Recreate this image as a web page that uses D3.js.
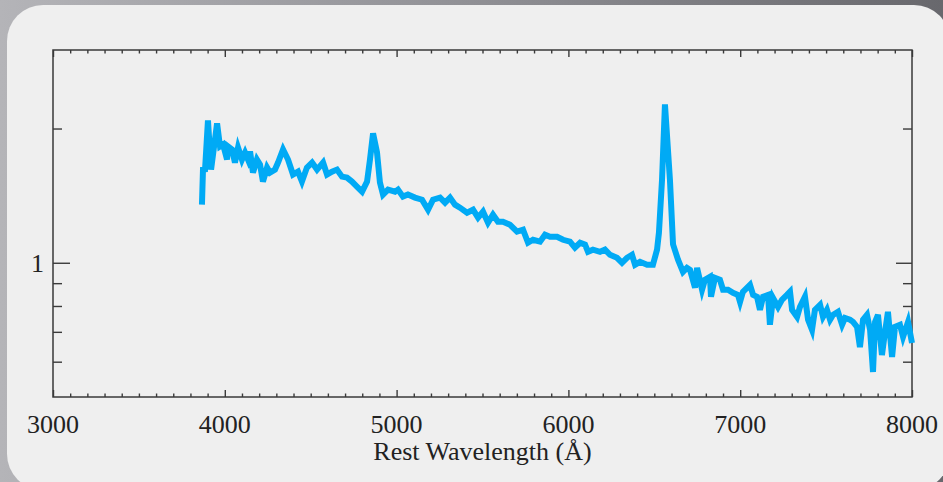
<!DOCTYPE html>
<html>
<head>
<meta charset="utf-8">
<script src="https://cdn.jsdelivr.net/npm/d3@7"></script>
<style>
  html, body { margin: 0; padding: 0; background: #8c8c90; }
  svg { display: block; }
</style>
</head>
<body>
<div id="chart"></div>
<script>
// spectrum: rest wavelength (A) and flux (log axis)
var wavelength = [
  3867, 3873, 3885, 3902, 3920, 3955, 3972, 3990, 4013, 4019,
  4042, 4059, 4077, 4100, 4118, 4135, 4147, 4164, 4187, 4205,
  4222, 4246, 4263, 4292, 4310, 4339, 4368, 4397, 4426, 4449,
  4478, 4508, 4537, 4572, 4595, 4624, 4653, 4682, 4711, 4740,
  4769, 4799, 4828, 4845, 4863, 4886, 4903, 4921, 4950, 4991,
  5008, 5037, 5066, 5107, 5148, 5183, 5212, 5253, 5282, 5311,
  5340, 5369, 5410, 5445, 5474, 5503, 5532, 5561, 5590, 5619,
  5660, 5701, 5736, 5765, 5794, 5835, 5864, 5893, 5934, 5969,
  6009, 6038, 6068, 6097, 6114, 6143, 6184, 6213, 6242, 6283,
  6312, 6341, 6370, 6388, 6417, 6458, 6492, 6516, 6527, 6545,
  6562, 6591, 6609, 6638, 6667, 6690, 6708, 6737, 6749, 6778,
  6795, 6824, 6830, 6853, 6882, 6900, 6929, 6958, 6987, 6999,
  7016, 7057, 7075, 7098, 7115, 7133, 7162, 7173, 7191, 7220,
  7243, 7272, 7290, 7302, 7331, 7348, 7377, 7395, 7418, 7435,
  7465, 7482, 7505, 7523, 7540, 7569, 7593, 7610, 7639, 7657,
  7680, 7697, 7715, 7738, 7756, 7773, 7785, 7802, 7825, 7843,
  7860, 7884, 7901, 7930, 7948, 7977, 8000
];
var flux = [
  1.350, 1.618, 1.620, 2.085, 1.618, 2.053, 1.823, 1.842, 1.704, 1.823,
  1.795, 1.678, 1.813, 1.704, 1.767, 1.704, 1.776, 1.593, 1.704, 1.661,
  1.521, 1.635, 1.593, 1.618, 1.678, 1.795, 1.704, 1.577, 1.601, 1.521,
  1.635, 1.678, 1.618, 1.678, 1.577, 1.601, 1.618, 1.560, 1.552, 1.521,
  1.482, 1.444, 1.521, 1.704, 1.950, 1.767, 1.513, 1.422, 1.459, 1.444,
  1.459, 1.407, 1.422, 1.400, 1.385, 1.315, 1.385, 1.400, 1.364, 1.400,
  1.350, 1.329, 1.295, 1.315, 1.262, 1.302, 1.230, 1.282, 1.236, 1.236,
  1.217, 1.174, 1.186, 1.109, 1.126, 1.115, 1.156, 1.144, 1.144, 1.126,
  1.115, 1.081, 1.109, 1.098, 1.058, 1.070, 1.058, 1.070, 1.042, 1.026,
  1.000, 1.026, 1.042, 0.990, 1.005, 0.990, 0.990, 1.070, 1.168, 1.536,
  2.265, 1.536, 1.100, 1.016, 0.954, 0.974, 0.964, 0.879, 0.974, 0.870,
  0.916, 0.930, 0.839, 0.925, 0.916, 0.870, 0.870, 0.856, 0.847, 0.817,
  0.861, 0.892, 0.847, 0.839, 0.784, 0.839, 0.847, 0.726, 0.834, 0.796,
  0.826, 0.847, 0.861, 0.784, 0.756, 0.796, 0.839, 0.745, 0.707, 0.784,
  0.805, 0.756, 0.784, 0.745, 0.764, 0.776, 0.726, 0.752, 0.745, 0.737,
  0.718, 0.647, 0.745, 0.764, 0.707, 0.569, 0.737, 0.764, 0.621, 0.700,
  0.776, 0.615, 0.718, 0.726, 0.682, 0.737, 0.661
];

var xDomain = [3000, 8000];
var yDomain = [0.5, 3];
var xTickValues = [3000, 4000, 5000, 6000, 7000, 8000];
var yLabelTicks = [1];
var yMidTicks = [2];
var yMinorTicks = [0.6, 0.7, 0.8, 0.9];
var xTitle = "Rest Wavelength (\u00c5)";

var W = 943, H = 482;
var plotL = 53, plotR = 912, plotT = 50, plotB = 397;

var svg = d3.select("#chart")
  .append("svg")
  .attr("width", W)
  .attr("height", H);

// grey backdrop and the rounded light card
var defs = svg.append("defs");
var grad = defs.append("linearGradient")
  .attr("id", "bg")
  .attr("x1", "0").attr("y1", "0")
  .attr("x2", "1").attr("y2", "0");
grad.append("stop").attr("offset", "0").attr("stop-color", "#b4b4b8");
grad.append("stop").attr("offset", "0.5").attr("stop-color", "#909095");
grad.append("stop").attr("offset", "1").attr("stop-color", "#68686d");

svg.append("rect")
  .attr("width", W).attr("height", H)
  .attr("fill", "url(#bg)");

svg.append("rect")
  .attr("x", 7).attr("y", 5)
  .attr("width", 943).attr("height", 485)
  .attr("rx", 36).attr("ry", 36)
  .attr("fill", "#efefef");

var x = d3.scaleLinear().domain(xDomain).range([plotL, plotR]);
var y = d3.scaleLog().domain(yDomain).range([plotB, plotT]);

var axisColor = "#3a3a3a";

// helper: draw tick marks only, no domain line and no text
function ticks(g, axis) {
  g.call(axis);
  g.select(".domain").remove();
  g.selectAll("line").attr("stroke", axisColor).attr("stroke-width", 1.4);
  g.selectAll("text").remove();
}

var minorX = x.ticks(50).filter(function(d) { return d % 1000 != 0; });

// bottom
svg.append("g").attr("transform", "translate(0," + plotB + ")")
  .call(ticks, d3.axisBottom(x).tickValues(xTickValues).tickSize(-7));
svg.append("g").attr("transform", "translate(0," + plotB + ")")
  .call(ticks, d3.axisBottom(x).tickValues(minorX).tickSize(-3.5));
// top
svg.append("g").attr("transform", "translate(0," + plotT + ")")
  .call(ticks, d3.axisTop(x).tickValues(xTickValues).tickSize(-7));
svg.append("g").attr("transform", "translate(0," + plotT + ")")
  .call(ticks, d3.axisTop(x).tickValues(minorX).tickSize(-3.5));
// left
svg.append("g").attr("transform", "translate(" + plotL + ",0)")
  .call(ticks, d3.axisLeft(y).tickValues(yLabelTicks).tickSize(-17));
svg.append("g").attr("transform", "translate(" + plotL + ",0)")
  .call(ticks, d3.axisLeft(y).tickValues(yMidTicks.concat(yMinorTicks)).tickSize(-9));
// right
svg.append("g").attr("transform", "translate(" + plotR + ",0)")
  .call(ticks, d3.axisRight(y).tickValues(yLabelTicks).tickSize(-16));
svg.append("g").attr("transform", "translate(" + plotR + ",0)")
  .call(ticks, d3.axisRight(y).tickValues(yMidTicks.concat(yMinorTicks)).tickSize(-9));

// frame
svg.append("rect")
  .attr("x", plotL).attr("y", plotT)
  .attr("width", plotR - plotL).attr("height", plotB - plotT)
  .attr("fill", "none")
  .attr("stroke", axisColor)
  .attr("stroke-width", 1.5);

// spectrum
var pts = wavelength.map(function(d, i) { return [d, flux[i]]; });
var line = d3.line()
  .x(function(d) { return x(d[0]); })
  .y(function(d) { return y(d[1]); });

svg.append("path")
  .datum(pts)
  .attr("d", line)
  .attr("fill", "none")
  .attr("stroke", "#00aaf5")
  .attr("stroke-width", 6)
  .attr("stroke-linejoin", "miter");

// labels
var font = "'Liberation Serif', 'Times New Roman', serif";

svg.selectAll(".xlab")
  .data(xTickValues)
  .enter()
  .append("text")
  .attr("x", function(d) { return x(d); })
  .attr("y", 433)
  .attr("text-anchor", "middle")
  .attr("font-family", font)
  .attr("font-size", "26px")
  .attr("fill", "#222")
  .text(function(d) { return d; });

svg.selectAll(".ylab")
  .data(yLabelTicks)
  .enter()
  .append("text")
  .attr("x", plotL - 9)
  .attr("y", function(d) { return y(d) + 9; })
  .attr("text-anchor", "end")
  .attr("font-family", font)
  .attr("font-size", "26px")
  .attr("fill", "#222")
  .text(function(d) { return d; });

svg.append("text")
  .attr("x", (plotL + plotR) / 2)
  .attr("y", 460)
  .attr("text-anchor", "middle")
  .attr("font-family", font)
  .attr("font-size", "26px")
  .attr("fill", "#222")
  .text(xTitle);
</script>
</body>
</html>
